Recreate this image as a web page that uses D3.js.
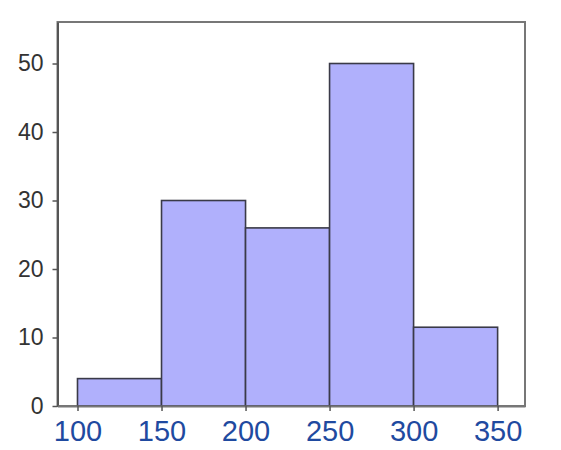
<!DOCTYPE html>
<html><head><meta charset="utf-8">
<script src="https://cdn.jsdelivr.net/npm/d3@7"></script>
<style>body{margin:0;background:#fff;}svg{display:block;}</style>
</head><body>
<svg id="c" width="561" height="450"></svg>
<script>
const binStarts = [100, 150, 200, 250, 300];
const binEnds = [150, 200, 250, 300, 350];
const counts = [4, 30, 26, 50, 11.5];
const xTicks = [100, 150, 200, 250, 300, 350];
const yTicks = [0, 10, 20, 30, 40, 50];

const svg = d3.select("#c");
const L = 57.5, R = 525, T = 22, B = 406;
const x = d3.scaleLinear().domain([88.1, 366.3]).range([L, R]);
const y = d3.scaleLinear().domain([0, 56.06]).range([B, T]);

// frame
svg.append("rect").attr("x", L).attr("y", T).attr("width", R - L).attr("height", B - T)
  .attr("fill", "#fff").attr("stroke", "#777").attr("stroke-width", 2);

// bars
svg.append("g").selectAll("rect").data(counts).join("rect")
  .attr("x", (d, i) => x(binStarts[i]))
  .attr("y", d => y(d))
  .attr("width", (d, i) => x(binEnds[i]) - x(binStarts[i]))
  .attr("height", d => y(0) - y(d))
  .attr("fill", "#b0b0fc")
  .attr("stroke", "#3a3a48")
  .attr("stroke-width", 1.6);

// y axis
const ya = svg.append("g").attr("transform", `translate(${L},0)`)
  .call(d3.axisLeft(y).tickValues(yTicks).tickSize(5).tickPadding(9).tickSizeOuter(0));
ya.select(".domain").attr("stroke", "#555").attr("stroke-width", 2);
ya.selectAll(".tick line").attr("stroke", "#555").attr("stroke-width", 1.5);
ya.selectAll(".tick text").attr("fill", "#333").attr("font-size", 23)
  .attr("font-family", "Liberation Sans, Arial, sans-serif");

// x axis
const xa = svg.append("g").attr("transform", `translate(0,${B})`)
  .call(d3.axisBottom(x).tickValues(xTicks).tickSize(5).tickPadding(9).tickSizeOuter(0));
xa.select(".domain").attr("stroke", "#777").attr("stroke-width", 2);
xa.selectAll(".tick line").attr("stroke", "#555").attr("stroke-width", 1.5);
xa.selectAll(".tick text").attr("fill", "#1f4aa0").attr("font-size", 29)
  .attr("font-family", "Liberation Sans, Arial, sans-serif");
</script>
</body></html>
